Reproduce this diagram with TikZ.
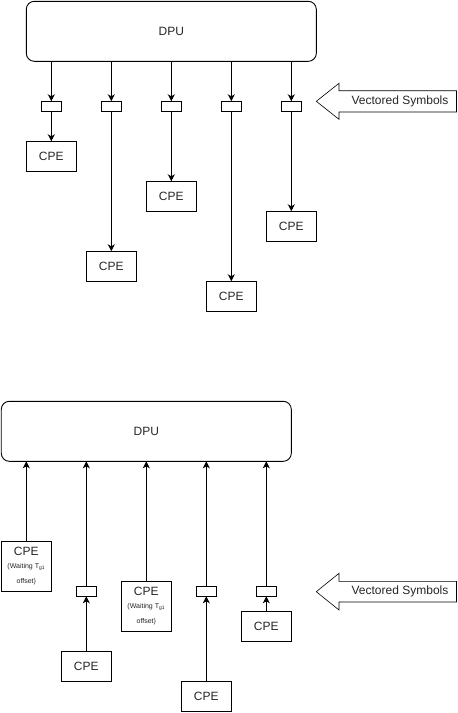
\documentclass[tikz,border=0pt]{standalone}
\usepackage{fontspec}
\setmainfont{Liberation Sans}
\usetikzlibrary{arrows.meta}
\begin{document}
\begin{tikzpicture}[x=1pt,y=-1pt,
  every node/.style={inner sep=0pt, outer sep=0pt, text=black!85},
  dpubox/.style={draw, line width=0.9pt, rounded corners=8pt, minimum width=290pt, minimum height=60pt, font=\fontsize{12}{14}\selectfont},
  cpebox/.style={draw, line width=0.9pt, minimum width=50pt, minimum height=30pt, font=\fontsize{12}{14}\selectfont},
  cpewait/.style={draw, line width=0.9pt, minimum width=50pt, minimum height=50pt, align=center},
  sbox/.style={draw, line width=0.9pt, minimum width=20pt, minimum height=10pt},
  link/.style={line width=0.9pt, -{Stealth[length=7pt,width=7pt,inset=2pt]}},
  vecarrow/.style={draw, line width=0.6pt, fill=white},
  vectext/.style={font=\fontsize{12}{14}\selectfont}
]
\useasboundingbox (0,0) rectangle (458,713);

% ---------- top diagram ----------
\node[dpubox] (dpuA) at (171.3,31.3) {DPU};
\foreach \i/\x in {1/51.3,2/111.3,3/171.3,4/231.3,5/291.3}{
  \node[sbox] (sa\i) at (\x,106.3) {};
}
\node[cpebox] (ca1) at (51.3,156.3) {CPE};
\node[cpebox] (ca2) at (111.3,266.3) {CPE};
\node[cpebox] (ca3) at (171.3,196.3) {CPE};
\node[cpebox] (ca4) at (231.3,296.3) {CPE};
\node[cpebox] (ca5) at (291.3,226.3) {CPE};
\foreach \i in {1,...,5}{
  \draw[link] (sa\i |- dpuA.south) -- (sa\i.north);
  \draw[link] (sa\i.south) -- (ca\i.north);
}
\draw[vecarrow] (316.3,101.3) -- (339,83.3) -- (339,90.7) -- (456.5,90.7) -- (456.5,112) -- (339,112) -- (339,119.3) -- cycle;
\node[vectext] (vsA) at (400,101.3) {Vectored Symbols};

% ---------- bottom diagram ----------
\node[dpubox] (dpuB) at (146.3,431.3) {DPU};
\node[cpewait] (cb1) at (26.3,566.3) {{\fontsize{12}{14}\selectfont CPE}\\[1pt]{\fontsize{7}{10}\selectfont (Waiting T\textsubscript{g1}}\\[3pt]{\fontsize{7}{10}\selectfont offset)}};
\node[sbox] (sb2) at (86.3,591.3) {};
\node[cpebox] (cb2) at (86.3,666.3) {CPE};
\node[cpewait] (cb3) at (146.3,606.3) {{\fontsize{12}{14}\selectfont CPE}\\[1pt]{\fontsize{7}{10}\selectfont (Waiting T\textsubscript{g1}}\\[3pt]{\fontsize{7}{10}\selectfont offset)}};
\node[sbox] (sb4) at (206.3,591.3) {};
\node[cpebox] (cb4) at (206.3,696.3) {CPE};
\node[sbox] (sb5) at (266.3,591.3) {};
\node[cpebox] (cb5) at (266.3,626.3) {CPE};

\draw[link] (cb1.north) -- (cb1 |- dpuB.south);
\draw[link] (cb3.north) -- (cb3 |- dpuB.south);
\foreach \i in {2,4,5}{
  \draw[link] (cb\i.north) -- (sb\i.south);
  \draw[link] (sb\i.north) -- (sb\i |- dpuB.south);
}
\draw[vecarrow] (316.3,591.7) -- (339,573.3) -- (339,581.3) -- (456.5,581.3) -- (456.5,602) -- (339,602) -- (339,610) -- cycle;
\node[vectext] (vsB) at (400,591.7) {Vectored Symbols};
\end{tikzpicture}
\end{document}
